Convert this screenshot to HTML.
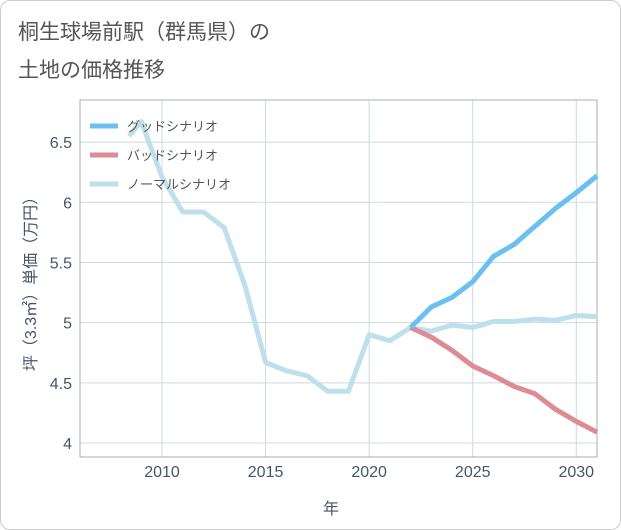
<!DOCTYPE html>
<html><head><meta charset="utf-8"><style>
body{margin:0;background:#fff;font-family:"Liberation Sans","Noto Sans CJK JP",sans-serif;}
#card{position:absolute;left:0;top:0;width:619px;height:528px;border:1px solid #ccc;border-radius:10px;background:#fff;}
#title{position:absolute;left:18px;top:14px;font-size:21px;line-height:38px;color:#555;}
</style></head><body>
<div id="card"></div>
<div id="title">桐生球場前駅（群馬県）の<br>土地の価格推移</div>
<svg id="chart" width="621" height="530" style="position:absolute;left:0;top:0"></svg>
<script>
const normalYears=[2008.4,2009,2010,2011,2012,2013,2014,2015,2016,2017,2018,2019,2020,2021,2022,2023,2024,2025,2026,2027,2028,2029,2030,2031];
const normalValues=[6.55,6.67,6.21,5.92,5.92,5.79,5.31,4.67,4.60,4.56,4.43,4.43,4.90,4.85,4.96,4.93,4.98,4.96,5.01,5.01,5.03,5.02,5.06,5.05];
const futureYears=[2022,2023,2024,2025,2026,2027,2028,2029,2030,2031];
const goodValues=[4.96,5.13,5.21,5.34,5.55,5.65,5.80,5.95,6.08,6.22];
const badValues=[4.96,4.88,4.77,4.64,4.56,4.47,4.41,4.28,4.18,4.09];
const xTicks=[2010,2015,2020,2025,2030];
const yTicks=[4,4.5,5,5.5,6,6.5];
const legendLabels=["グッドシナリオ","バッドシナリオ","ノーマルシナリオ"];
const NS="http://www.w3.org/2000/svg";
const L=80,R=597,T=100,B=457,x0=2006.04,x1=2031,y0=3.884,y1=6.85;
const sx=v=>L+(v-x0)/(x1-x0)*(R-L);
const sy=v=>B-(v-y0)/(y1-y0)*(B-T);
const svg=document.getElementById('chart');
function mk(t,a){const e=document.createElementNS(NS,t);for(const k in a)e.setAttribute(k,a[k]);svg.appendChild(e);return e;}
xTicks.forEach(v=>{
const g=mk('line',{x1:sx(v),x2:sx(v),y1:T,y2:B,stroke:'#c9dbe5','stroke-width':1});


const t=mk('text',{x:sx(v),y:477,'text-anchor':'middle','font-size':16,fill:'#44556a'});t.textContent=v;


});
yTicks.forEach(v=>{
const g=mk('line',{x1:L,x2:R,y1:sy(v),y2:sy(v),stroke:'#cfd8e3','stroke-width':1});


const t=mk('text',{x:72,y:sy(v)+6,'text-anchor':'end','font-size':16,fill:'#44556a'});t.textContent=v;


});
const fr=mk('rect',{x:L,y:T,width:R-L,height:B-T,fill:'none',stroke:'#a8adb5','stroke-width':1});


function line(xs,ys,c,name){
const p=mk('polyline',{points:xs.map((x,i)=>sx(x)+','+sy(ys[i])).join(' '),fill:'none',stroke:c,'stroke-width':5,'stroke-linejoin':'round'});


}
line(normalYears,normalValues,'#bde0ec','normal-scenario-line');
line(futureYears,badValues,'#de8c93','bad-scenario-line');
line(futureYears,goodValues,'#6bbff3','good-scenario-line');
const lc=['#6bbff3','#de8c93','#bde0ec'];
legendLabels.forEach((s,i)=>{
const y=126+i*29;
const l=mk('line',{x1:90,x2:118,y1:y,y2:y,stroke:lc[i],'stroke-width':5});


const t=mk('text',{x:127,y:y+5,'font-size':13,fill:'#555'});t.textContent=s;


});
const xt=mk('text',{x:331,y:514,'text-anchor':'middle','font-size':16,fill:'#44556a'});xt.textContent='年';


const yt=mk('text',{x:0,y:0,'text-anchor':'middle','font-size':16,fill:'#44556a',transform:'translate(36,280) rotate(-90)'});yt.textContent='坪（3.3㎡）単価（万円）';


</script>
</body></html>
